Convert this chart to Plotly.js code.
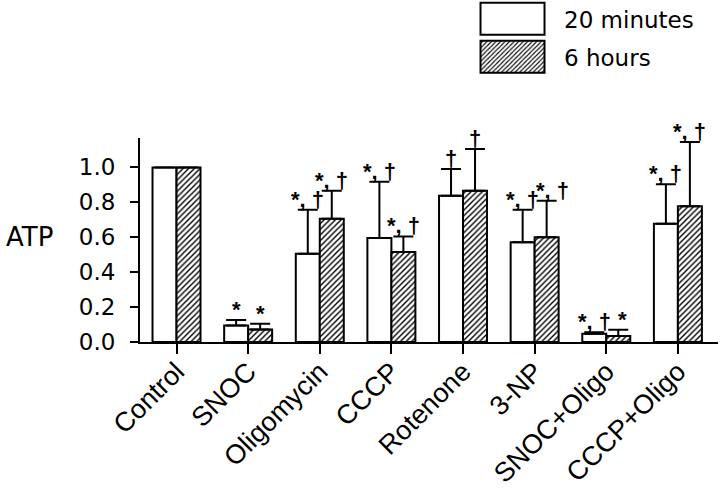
<!DOCTYPE html>
<html>
<head>
<meta charset="utf-8">
<script src="https://cdn.plot.ly/plotly-3.0.1.min.js"></script>
<style>html,body{margin:0;padding:0;background:#fff;}</style>
</head>
<body>
<div id="chart" style="width:720px;height:489px;"></div>
<script>
const categories = ['Control','SNOC','Oligomycin','CCCP','Rotenone','3-NP','SNOC+Oligo','CCCP+Oligo'];
const atp20min = [1.0, 0.094, 0.506, 0.596, 0.837, 0.571, 0.047, 0.678];
const err20min = [0, 0.032, 0.251, 0.322, 0.154, 0.186, 0.009, 0.225];
const atp6h = [1.0, 0.071, 0.706, 0.515, 0.867, 0.600, 0.034, 0.777];
const err6h = [0, 0.034, 0.161, 0.090, 0.238, 0.209, 0.036, 0.369];
const sig20min = ['', '*', '*, \u2020', '*, \u2020', '\u2020', '*, \u2020', '*, \u2020', '*, \u2020'];
const sig6h = ['', '*', '*, \u2020', '*, \u2020', '\u2020', '*, \u2020', '*', '*, \u2020'];
const seriesNames = ['20 minutes', '6 hours'];
const yTicks = [0, 0.2, 0.4, 0.6, 0.8, 1.0];

const FONT = 'DejaVu Sans, sans-serif';
const HELV = 'Liberation Sans, Arial, sans-serif';
const errStyle = {type: 'data', symmetric: false, color: '#000', thickness: 2, width: 10};

const trace20 = {
  type: 'bar', name: seriesNames[0], x: categories, y: atp20min, legendgroup: 'a',
  marker: {color: '#fff', line: {color: '#000', width: 2}},
  error_y: Object.assign({array: err20min, arrayminus: err20min.map(() => 0)}, errStyle)
};
const trace6h = {
  type: 'bar', name: seriesNames[1], x: categories, y: atp6h, legendgroup: 'b',
  marker: {color: '#fff', line: {color: '#000', width: 2},
           pattern: {shape: '/', fgcolor: '#000', bgcolor: '#fff', size: 4, solidity: 0.35}},
  error_y: Object.assign({array: err6h, arrayminus: err6h.map(() => 0)}, errStyle)
};

const annotations = [];
function addSig(sig, vals, errs, shift, nudge) {
  sig.forEach((t, i) => {
    if (!t) return;
    annotations.push({
      x: categories[i], y: vals[i] + errs[i], xref: 'x', yref: 'y',
      text: t, showarrow: false, xanchor: 'center', yanchor: 'bottom',
      xshift: shift + (nudge[i] || 0), yshift: -4,
      font: {family: HELV, size: 22, color: '#000', weight: 'bold'}
    });
  });
}
addSig(sig20min, atp20min, err20min, -12, {});
addSig(sig6h, atp6h, err6h, 12, {5: 6, 6: 4});
annotations.push({
  text: 'ATP', xref: 'paper', yref: 'y', x: -0.147, y: 0.6,
  xanchor: 'right', yanchor: 'middle', showarrow: false,
  font: {family: FONT, size: 26, color: '#000'}
});

const layout = {
  width: 720, height: 489,
  margin: {l: 140, r: 2, t: 134, b: 147, pad: 0},
  paper_bgcolor: '#fff', plot_bgcolor: '#fff',
  barmode: 'group', bargap: 0.33, bargroupgap: 0,
  showlegend: true,
  legend: {x: 0.5554, y: 1.67, xanchor: 'left', yanchor: 'top', itemwidth: 93,
           tracegroupgap: 5, bgcolor: 'rgba(0,0,0,0)',
           font: {family: FONT, size: 23, color: '#000'}},
  xaxis: {type: 'category', range: [-0.51, 7.56], showline: true, linecolor: '#000', linewidth: 2,
          ticks: 'outside', ticklen: 10, tickwidth: 2, tickcolor: '#000', tickangle: -45,
          ticklabelstandoff: -9,
          showgrid: false, zeroline: false,
          tickfont: {family: HELV, size: 27, color: '#000'}},
  yaxis: {range: [0, 1.1685], showline: true, linecolor: '#000', linewidth: 2,
          ticks: 'outside', ticklen: 8, tickwidth: 2, tickcolor: '#000', ticklabelstandoff: 10,
          tickvals: yTicks, tickformat: '.1f', showgrid: false, zeroline: false,
          tickfont: {family: FONT, size: 23, color: '#000'}},
  annotations: annotations
};

Plotly.newPlot('chart', [trace20, trace6h], layout, {displayModeBar: false, staticPlot: true}).then(gd => {
  gd.querySelectorAll('.legend .legendpoints path').forEach(p => {
    p.setAttribute('d', 'M32,16H-32V-16H32Z');
  });
  const lg = gd.querySelector('.legend');
  if (lg) {
    const m = /translate\(\s*([-\d.]+)[ ,]+([-\d.]+)\s*\)/.exec(lg.getAttribute('transform') || '');
    if (m) lg.setAttribute('transform', 'translate(' + m[1] + ',' + (parseFloat(m[2]) - 4) + ')');
  }
});
</script>
</body>
</html>
